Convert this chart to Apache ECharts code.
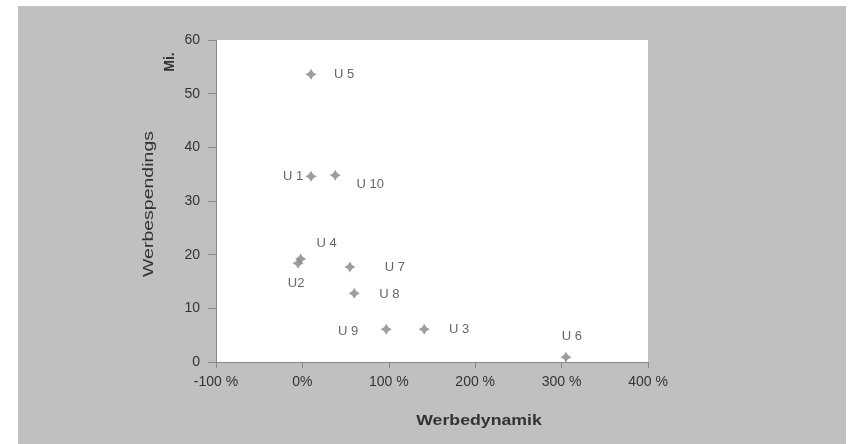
<!DOCTYPE html>
<html>
<head>
<meta charset="utf-8">
<script src="https://cdn.jsdelivr.net/npm/echarts@6/dist/echarts.min.js"></script>
<style>
  html, body { margin: 0; padding: 0; background: #fff; }
  #chart { width: 854px; height: 444px; }
</style>
</head>
<body>
<div id="chart"></div>
<script>
// Unternehmen: Werbedynamik (%) vs. Werbespendings (Mi.)
const names = ['U 1', 'U2', 'U 3', 'U 4', 'U 5', 'U 6', 'U 7', 'U 8', 'U 9', 'U 10']
const dynamik = [10, -5, 141, -2, 10, 305, 55, 60, 97, 38]
const spendings = [34.6, 18.4, 6.1, 19.2, 53.6, 0.9, 17.7, 12.8, 6.1, 34.8]
const xTicks = [-100, 0, 100, 200, 300, 400]
const yTicks = [0, 10, 20, 30, 40, 50, 60]

// label offsets (px) from each marker, as in the original layout
const labelOffset = {
  'U 1': [-18, 0],
  'U2': [-2, 20],
  'U 3': [35, 0],
  'U 4': [26, -16],
  'U 5': [33, 0],
  'U 6': [6, -21],
  'U 7': [45, 0],
  'U 8': [35, 1],
  'U 9': [-38, 2],
  'U 10': [35, 9]
}

const star = 'path://M0,-10 L3.8,-3.8 L10,0 L3.8,3.8 L0,10 L-3.8,3.8 L-10,0 L-3.8,-3.8 Z'
const font = 'Liberation Sans, Arial, sans-serif'

const chart = echarts.init(document.getElementById('chart'))
chart.setOption({
  backgroundColor: '#fff',
  animation: false,
  graphic: [
    {
      type: 'rect', z: -10, silent: true,
      shape: { x: 18, y: 6, width: 828, height: 438 },
      style: { fill: '#c0c0c0' }
    },
    {
      type: 'text', x: 479, y: 421, scaleX: 1.18,
      style: {
        text: 'Werbedynamik', font: 'bold 15px ' + font, fill: '#333',
        align: 'center', verticalAlign: 'middle'
      }
    },
    {
      type: 'text', x: 149, y: 204, rotation: Math.PI / 2, scaleX: 1.3,
      style: {
        text: 'Werbespendings', font: '15px ' + font, fill: '#333',
        align: 'center', verticalAlign: 'middle'
      }
    },
    {
      type: 'text', x: 170, y: 62, rotation: Math.PI / 2,
      style: {
        text: 'Mi.', font: 'bold 14px ' + font, fill: '#333',
        align: 'center', verticalAlign: 'middle'
      }
    }
  ],
  grid: {
    left: 216, right: 206, top: 40, bottom: 82,
    show: true, backgroundColor: '#fff', borderWidth: 0
  },
  xAxis: {
    type: 'value',
    min: xTicks[0], max: xTicks[xTicks.length - 1], interval: 100,
    axisLine: { show: true, onZero: false, lineStyle: { color: '#888' } },
    axisTick: { show: true, length: 6, lineStyle: { color: '#888' } },
    splitLine: { show: false },
    axisLabel: {
      color: '#333', fontFamily: font, fontSize: 14, margin: 13,
      formatter: (v) => (v === 0 ? '0%' : v + ' %')
    }
  },
  yAxis: {
    type: 'value',
    min: yTicks[0], max: yTicks[yTicks.length - 1], interval: 10,
    axisLine: { show: true, onZero: false, lineStyle: { color: '#888' } },
    axisTick: { show: true, length: 8, lineStyle: { color: '#888' } },
    splitLine: { show: false },
    axisLabel: { color: '#333', fontFamily: font, fontSize: 14, margin: 16 }
  },
  series: [{
    type: 'scatter',
    symbol: star,
    symbolSize: 11,
    itemStyle: { color: '#858585' },
    label: {
      show: true,
      position: 'inside',
      formatter: (p) => p.data.name,
      color: '#404040',
      fontFamily: font,
      fontSize: 13
    },
    data: names.map((n, i) => ({
      name: n,
      value: [dynamik[i], spendings[i]],
      label: { offset: labelOffset[n] }
    }))
  }]
})
</script>
</body>
</html>
